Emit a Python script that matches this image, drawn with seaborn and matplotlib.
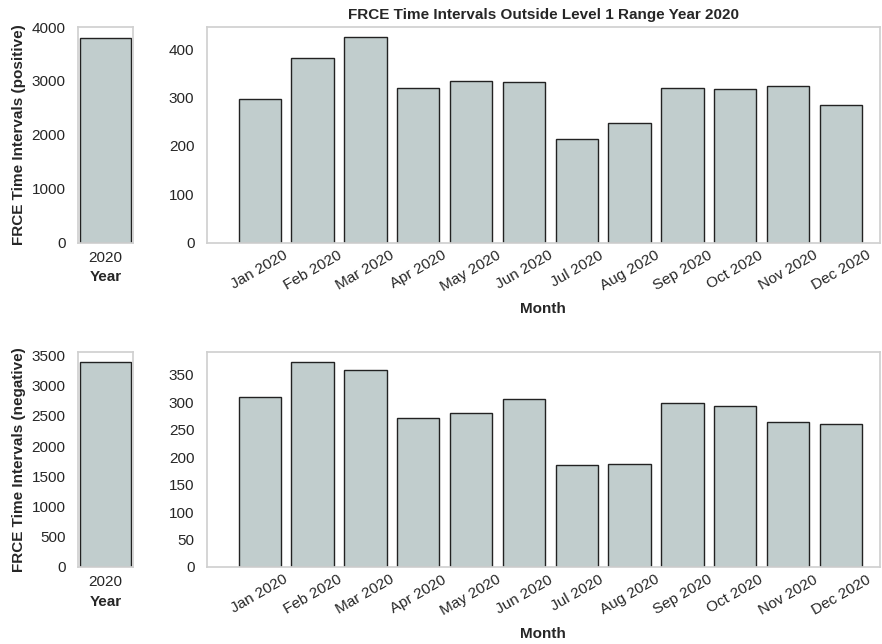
import matplotlib.pyplot as plt
import pandas as pd
import seaborn as sns

# data
months = ['Jan 2020', 'Feb 2020', 'Mar 2020', 'Apr 2020', 'May 2020', 'Jun 2020',
          'Jul 2020', 'Aug 2020', 'Sep 2020', 'Oct 2020', 'Nov 2020', 'Dec 2020']
positive = [298, 383, 425, 319, 334, 332, 215, 247, 321, 317, 325, 284]
negative = [310, 374, 359, 272, 281, 306, 185, 187, 299, 294, 265, 261]
years = ['2020']
positive_year = [sum(positive)]
negative_year = [sum(negative)]

# tick steps used on each axis
year_ticks = {'positive': range(0, 4001, 1000), 'negative': range(0, 3501, 500)}
month_ticks = {'positive': range(0, 401, 100), 'negative': range(0, 351, 50)}

sns.set_theme(style='white')
plt.rcParams['font.family'] = ['Liberation Sans', 'DejaVu Sans']
plt.rcParams['axes.edgecolor'] = '#d0d0d0'

bar_color = '#c1cdcd'

df_month = pd.DataFrame({'month': months, 'positive': positive, 'negative': negative})
df_year = pd.DataFrame({'year': years, 'positive': positive_year, 'negative': negative_year})

fig, axes = plt.subplots(2, 2, figsize=(8.82, 6.44), dpi=100,
                         gridspec_kw={'width_ratios': [55, 673]})
fig.subplots_adjust(left=0.0884, right=0.9977, top=0.958, bottom=0.1196,
                    wspace=0.203, hspace=0.506)

for row, col in enumerate(['positive', 'negative']):
    ax_y = axes[row, 0]
    ax_m = axes[row, 1]

    sns.barplot(ax=ax_y, data=df_year, x='year', y=col, color=bar_color,
                saturation=1, edgecolor='#222222', linewidth=1, width=0.92)
    ax_y.set_xlim(-0.5, 0.5)
    ax_y.set_ylim(0, max(df_year[col]) * 1.05)
    ax_y.set_yticks(list(year_ticks[col]))
    ax_y.set_xlabel('Year', fontweight='bold', fontsize=11, labelpad=4)
    ax_y.set_ylabel('FRCE Time Intervals (%s)' % col, fontweight='bold', fontsize=11)
    ax_y.tick_params(labelsize=11, length=0)
    ax_y.tick_params(axis='y', pad=9)
    ax_y.tick_params(axis='x', pad=6)

    sns.barplot(ax=ax_m, data=df_month, x='month', y=col, color=bar_color,
                saturation=1, edgecolor='#222222', linewidth=1, width=0.8)
    ax_m.set_xlim(-1.0, 11.74)
    ax_m.set_yticks(list(month_ticks[col]))
    ax_m.set_xlabel('Month', fontweight='bold', fontsize=11, labelpad=6)
    ax_m.set_ylabel('')
    ax_m.tick_params(labelsize=11, length=0)
    ax_m.tick_params(axis='y', pad=9)
    ax_m.tick_params(axis='x', labelrotation=30, pad=4)

axes[0, 1].set_title('FRCE Time Intervals Outside Level 1 Range Year 2020',
                     fontweight='bold', fontsize=11)

fig.savefig('out.png')
